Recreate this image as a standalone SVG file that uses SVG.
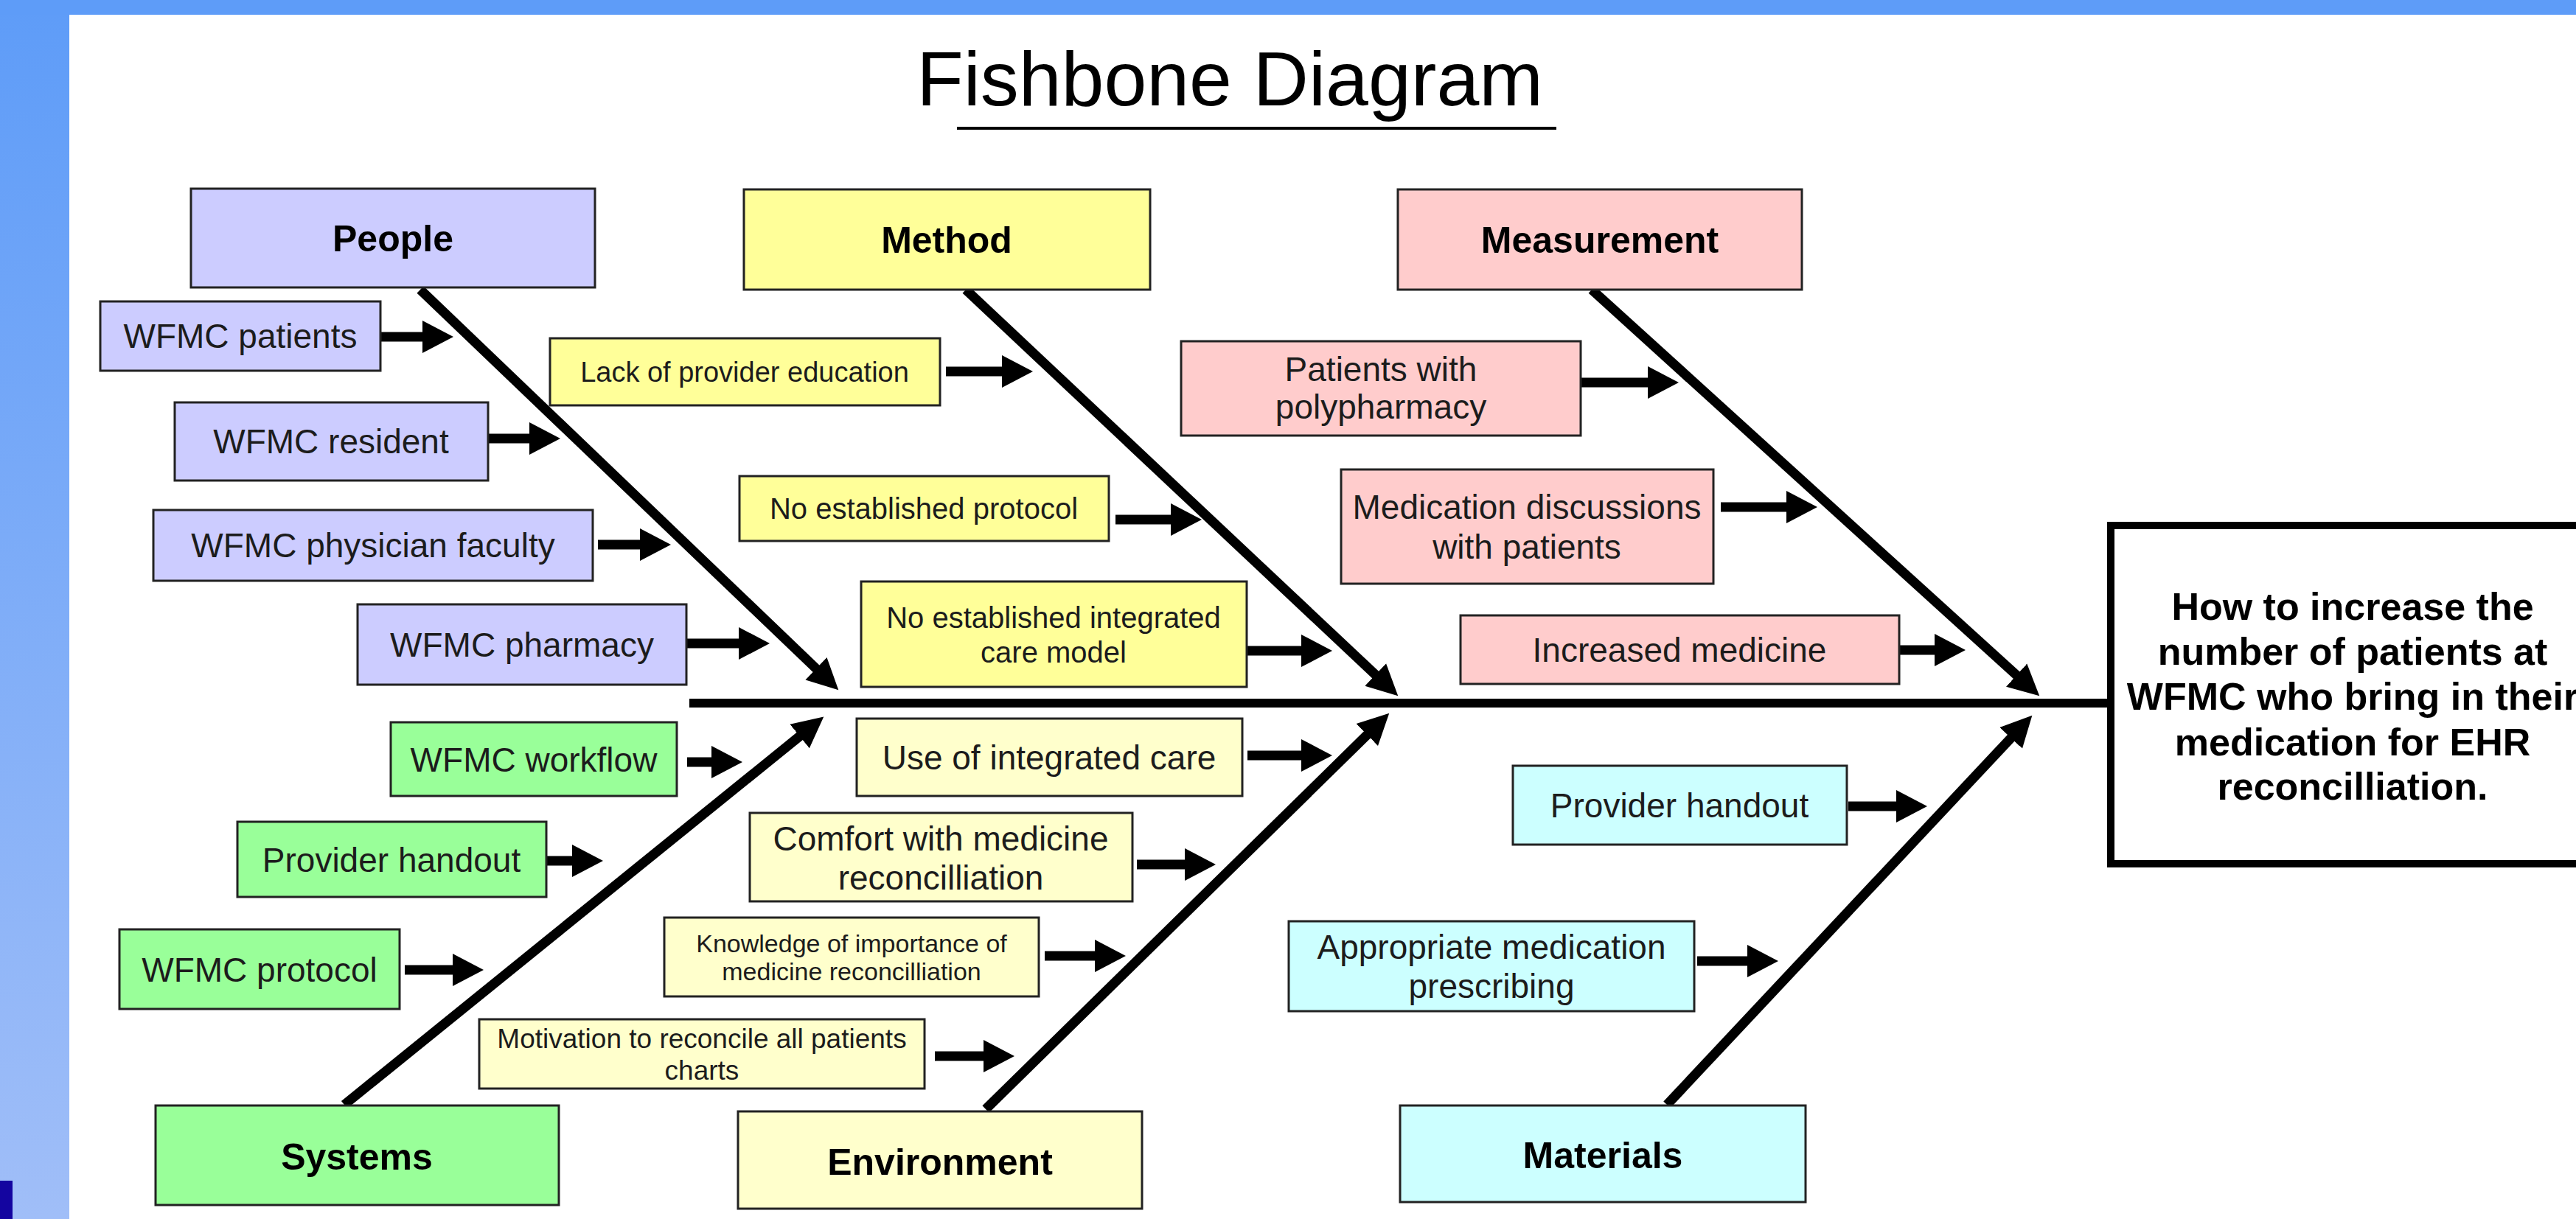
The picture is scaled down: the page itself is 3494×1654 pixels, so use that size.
<svg xmlns="http://www.w3.org/2000/svg" width="3494" height="1654" viewBox="0 0 3494 1654">
<defs>
<linearGradient id="band" x1="0" y1="0" x2="0" y2="1">
<stop offset="0" stop-color="#5E9CF8"/>
<stop offset="1" stop-color="#A0BEF8"/>
</linearGradient>
<marker id="arr" markerUnits="userSpaceOnUse" markerWidth="44" markerHeight="46" viewBox="0 -23 44 46" refX="1" refY="0" orient="auto">
<path d="M0,-22 L42,0 L0,22 z" fill="#000"/>
</marker>
<marker id="bone" markerUnits="userSpaceOnUse" markerWidth="44" markerHeight="46" viewBox="0 -23 44 46" refX="1" refY="0" orient="auto">
<path d="M0,-21 L42,0 L0,21 z" fill="#000"/>
</marker>
</defs>
<style>
.box{stroke:#222;stroke-width:3}
.people{fill:#CCCCFF}
.method{fill:#FFFF99}
.meas{fill:#FFCCCC}
.sys{fill:#99FF99}
.env{fill:#FFFFCC}
.mat{fill:#CCFFFF}
text{font-family:"Liberation Sans",Arial,sans-serif;fill:#1c1c1c;text-anchor:middle}
.cat{font-size:50px;font-weight:bold;fill:#000}
.t46{font-size:46px}
.t40{font-size:40px}
.t38{font-size:38px}
.t37{font-size:37px}
.t34{font-size:34px}
.eff{font-size:52px;font-weight:bold;fill:#000}
.br{stroke:#000;stroke-width:13;fill:none;marker-end:url(#arr)}
.bn{stroke:#000;stroke-width:13;fill:none;marker-end:url(#bone)}
</style>
<rect x="0" y="0" width="3494" height="1654" fill="#fff"/>
<rect x="0" y="0" width="94" height="1654" fill="url(#band)"/>
<rect x="0" y="0" width="3494" height="20" fill="#5E9CF8"/>
<rect x="0" y="1602" width="17" height="52" fill="#1405A0"/>
<g id="title">
<text x="1668" y="143" style="font-size:104px;fill:#000">Fishbone Diagram</text>
<line x1="1298" y1="174" x2="2111" y2="174" stroke="#000" stroke-width="4"/>
</g>
<g id="connectors">
<line x1="935" y1="954" x2="2858" y2="954" stroke="#000" stroke-width="12"/>
<line class="bn" x1="570" y1="393" x2="1107.7" y2="907.9"/>
<line class="bn" x1="1310" y1="393" x2="1866.4" y2="916.2"/>
<line class="bn" x1="2159" y1="393" x2="2735.9" y2="916.8"/>
<line class="bn" x1="467" y1="1499" x2="1085.4" y2="998.4"/>
<line class="bn" x1="1337" y1="1505" x2="1855" y2="996.4"/>
<line class="bn" x1="2261" y1="1499" x2="2728.3" y2="1000.6"/>
<line class="br" x1="517" y1="457" x2="574" y2="457"/>
<line class="br" x1="663" y1="595" x2="719" y2="595"/>
<line class="br" x1="811" y1="739" x2="869" y2="739"/>
<line class="br" x1="932" y1="873" x2="1003" y2="873"/>
<line class="br" x1="1283" y1="504" x2="1360" y2="504"/>
<line class="br" x1="1513" y1="705" x2="1589" y2="705"/>
<line class="br" x1="1692" y1="883" x2="1766" y2="883"/>
<line class="br" x1="2144" y1="519" x2="2236" y2="519"/>
<line class="br" x1="2334" y1="688" x2="2424" y2="688"/>
<line class="br" x1="2577" y1="882" x2="2625" y2="882"/>
<line class="br" x1="932" y1="1034" x2="966" y2="1034"/>
<line class="br" x1="742" y1="1168" x2="777" y2="1168"/>
<line class="br" x1="549" y1="1316" x2="615" y2="1316"/>
<line class="br" x1="1692" y1="1025" x2="1766" y2="1025"/>
<line class="br" x1="1542" y1="1173" x2="1608" y2="1173"/>
<line class="br" x1="1417" y1="1297" x2="1486" y2="1297"/>
<line class="br" x1="1268" y1="1433" x2="1335" y2="1433"/>
<line class="br" x1="2507" y1="1094" x2="2573" y2="1094"/>
<line class="br" x1="2302" y1="1304" x2="2371" y2="1304"/>
</g>
<g id="people">
<rect class="box people" x="259" y="256" width="548" height="134"/>
<text class="cat" x="533" y="341">People</text>
</g>
<g id="method">
<rect class="box method" x="1009" y="257" width="551" height="136"/>
<text class="cat" x="1284" y="343">Method</text>
</g>
<g id="measurement">
<rect class="box meas" x="1896" y="257" width="548" height="136"/>
<text class="cat" x="2170" y="343">Measurement</text>
</g>
<g id="systems">
<rect class="box sys" x="211" y="1500" width="547" height="135"/>
<text class="cat" x="484" y="1587">Systems</text>
</g>
<g id="environment">
<rect class="box env" x="1001" y="1508" width="548" height="132"/>
<text class="cat" x="1275" y="1594">Environment</text>
</g>
<g id="materials">
<rect class="box mat" x="1899" y="1500" width="550" height="131"/>
<text class="cat" x="2174" y="1585">Materials</text>
</g>
<g id="wfmc-patients">
<rect class="box people" x="136" y="409" width="380" height="94"/>
<text class="t46" x="326" y="472">WFMC patients</text>
</g>
<g id="wfmc-resident">
<rect class="box people" x="237" y="546" width="425" height="106"/>
<text class="t46" x="449" y="615">WFMC resident</text>
</g>
<g id="wfmc-physician-faculty">
<rect class="box people" x="208" y="692" width="596" height="96"/>
<text class="t46" x="506" y="756">WFMC physician faculty</text>
</g>
<g id="wfmc-pharmacy">
<rect class="box people" x="485" y="820" width="446" height="109"/>
<text class="t46" x="708" y="891">WFMC pharmacy</text>
</g>
<g id="lack-of-provider-education">
<rect class="box method" x="746" y="459" width="529" height="91"/>
<text class="t38" x="1010" y="518">Lack of provider education</text>
</g>
<g id="no-established-protocol">
<rect class="box method" x="1003" y="646" width="501" height="88"/>
<text class="t40" x="1253" y="704">No established protocol</text>
</g>
<g id="no-established-integrated-care-model">
<rect class="box method" x="1168" y="789" width="523" height="143"/>
<text class="t40" x="1429" y="852">No established integrated</text>
<text class="t40" x="1429" y="899">care model</text>
</g>
<g id="patients-with-polypharmacy">
<rect class="box meas" x="1602" y="463" width="542" height="128"/>
<text class="t46" x="1873" y="517">Patients with</text>
<text class="t46" x="1873" y="568">polypharmacy</text>
</g>
<g id="medication-discussions">
<rect class="box meas" x="1819" y="637" width="505" height="155"/>
<text class="t46" x="2071" y="704">Medication discussions</text>
<text class="t46" x="2071" y="758">with patients</text>
</g>
<g id="increased-medicine">
<rect class="box meas" x="1981" y="835" width="595" height="93"/>
<text class="t46" x="2278" y="898">Increased medicine</text>
</g>
<g id="wfmc-workflow">
<rect class="box sys" x="530" y="980" width="388" height="100"/>
<text class="t46" x="724" y="1047">WFMC workflow</text>
</g>
<g id="provider-handout-systems">
<rect class="box sys" x="322" y="1115" width="419" height="102"/>
<text class="t46" x="531" y="1183">Provider handout</text>
</g>
<g id="wfmc-protocol">
<rect class="box sys" x="162" y="1261" width="380" height="108"/>
<text class="t46" x="352" y="1332">WFMC protocol</text>
</g>
<g id="use-of-integrated-care">
<rect class="box env" x="1162" y="975" width="523" height="105"/>
<text class="t46" x="1423" y="1044">Use of integrated care</text>
</g>
<g id="comfort-with-medicine">
<rect class="box env" x="1017" y="1103" width="519" height="120"/>
<text class="t46" x="1276" y="1154">Comfort with medicine</text>
<text class="t46" x="1276" y="1207">reconcilliation</text>
</g>
<g id="knowledge-of-importance">
<rect class="box env" x="901" y="1245" width="508" height="107"/>
<text class="t34" x="1155" y="1292">Knowledge of importance of</text>
<text class="t34" x="1155" y="1330">medicine reconcilliation</text>
</g>
<g id="motivation-to-reconcile">
<rect class="box env" x="650" y="1383" width="604" height="94"/>
<text class="t37" x="952" y="1422">Motivation to reconcile all patients</text>
<text class="t37" x="952" y="1465">charts</text>
</g>
<g id="provider-handout-materials">
<rect class="box mat" x="2052" y="1039" width="453" height="107"/>
<text class="t46" x="2278" y="1109">Provider handout</text>
</g>
<g id="appropriate-medication-prescribing">
<rect class="box mat" x="1748" y="1250" width="550" height="122"/>
<text class="t46" x="2023" y="1301">Appropriate medication</text>
<text class="t46" x="2023" y="1354">prescribing</text>
</g>
<g id="effect">
<rect x="2863" y="713" width="700" height="459" fill="#fff" stroke="#000" stroke-width="10"/>
<text class="eff" x="3191" y="841">How to increase the</text>
<text class="eff" x="3191" y="902">number of patients at</text>
<text class="eff" x="3191" y="963">WFMC who bring in their</text>
<text class="eff" x="3191" y="1025">medication for EHR</text>
<text class="eff" x="3191" y="1085">reconcilliation.</text>
</g>
</svg>
